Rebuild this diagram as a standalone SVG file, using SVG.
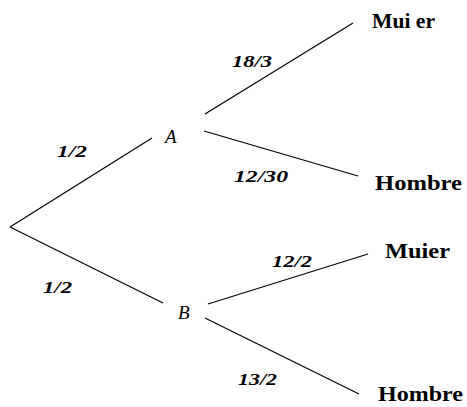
<svg xmlns="http://www.w3.org/2000/svg" width="467" height="407" viewBox="0 0 467 407">
<style>
.e{stroke:#000;stroke-width:1.2;fill:none}
.n{font-family:"Liberation Serif","Times New Roman",serif;font-weight:bold;font-size:22px;fill:#000}
.l{font-family:"Liberation Serif","Times New Roman",serif;font-weight:bold;font-style:italic;font-size:17px;fill:#000}
.v{font-family:"Liberation Serif","Times New Roman",serif;font-style:italic;font-size:19px;fill:#000}
</style>
<rect width="467" height="407" fill="#fff"/>
<g id="connectors">
<line class="e" x1="10" y1="227" x2="152" y2="138"/>
<line class="e" x1="10" y1="227" x2="163" y2="303"/>
<line class="e" x1="205" y1="114" x2="353" y2="23"/>
<line class="e" x1="204" y1="131" x2="358" y2="176"/>
<line class="e" x1="208" y1="304" x2="368" y2="254"/>
<line class="e" x1="205" y1="318" x2="359" y2="394"/>
</g>
<g id="labels">
<text class="l" x="232" y="67" textLength="40" lengthAdjust="spacingAndGlyphs">18/3</text>
<text class="l" x="57" y="157" textLength="30" lengthAdjust="spacingAndGlyphs">1/2</text>
<text class="l" x="234" y="182" textLength="54" lengthAdjust="spacingAndGlyphs">12/30</text>
<text class="l" x="272" y="267" textLength="40" lengthAdjust="spacingAndGlyphs">12/2</text>
<text class="l" x="43" y="293" textLength="29" lengthAdjust="spacingAndGlyphs">1/2</text>
<text class="l" x="238" y="385" textLength="39" lengthAdjust="spacingAndGlyphs">13/2</text>
</g>
<g id="A"><text class="v" x="165" y="143">A</text></g>
<g id="B"><text class="v" x="178" y="319">B</text></g>
<g id="muier1"><text class="n" x="372" y="28" textLength="63" lengthAdjust="spacingAndGlyphs">Mui er</text></g>
<g id="hombre1"><text class="n" x="375" y="190" textLength="87" lengthAdjust="spacingAndGlyphs">Hombre</text></g>
<g id="muier2"><text class="n" x="385" y="258" textLength="65" lengthAdjust="spacingAndGlyphs">Muier</text></g>
<g id="hombre2"><text class="n" x="378" y="401" textLength="85" lengthAdjust="spacingAndGlyphs">Hombre</text></g>
</svg>
